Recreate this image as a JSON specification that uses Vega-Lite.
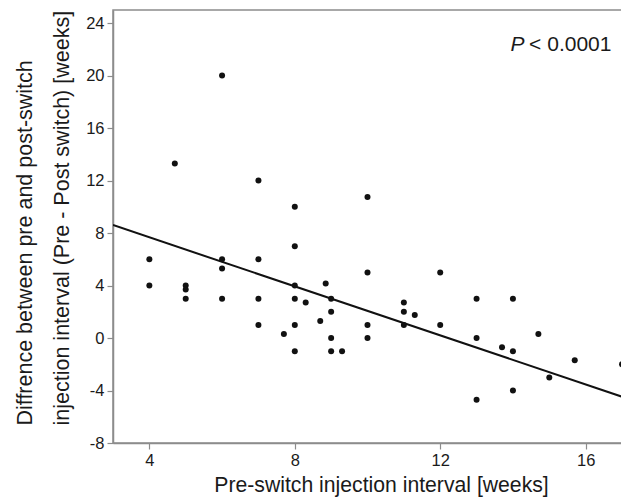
{
  "$schema": "https://vega.github.io/schema/vega-lite/v6.json",
  "width": 509,
  "height": 433,
  "autosize": {"type": "none"},
  "padding": {"left": 113, "top": 10, "right": 0, "bottom": 59},
  "background": "white",
  "config": {
    "font": "Liberation Sans",
    "view": {"stroke": "#8c8c8c", "strokeWidth": 1.5},
    "axis": {
      "domainColor": "#8c8c8c",
      "domainWidth": 1.5,
      "tickColor": "#8c8c8c",
      "tickWidth": 1.2,
      "tickSize": 6,
      "grid": false,
      "labelFont": "Liberation Sans",
      "labelFontSize": 16.5,
      "labelColor": "#1a1a1a",
      "labelPadding": 3,
      "labelExpr": "'' + datum.value",
      "titleFont": "Liberation Sans",
      "titleFontWeight": "normal",
      "titleColor": "#1a1a1a"
    }
  },
  "datasets": {
    "pts": [
      {"pre": 4, "diff": 6}, {"pre": 4, "diff": 4},
      {"pre": 4.7, "diff": 13.3},
      {"pre": 5, "diff": 4}, {"pre": 5, "diff": 3.7}, {"pre": 5, "diff": 3},
      {"pre": 6, "diff": 20}, {"pre": 6, "diff": 6}, {"pre": 6, "diff": 5.3}, {"pre": 6, "diff": 3},
      {"pre": 7, "diff": 12}, {"pre": 7, "diff": 6}, {"pre": 7, "diff": 3}, {"pre": 7, "diff": 1},
      {"pre": 7.7, "diff": 0.3},
      {"pre": 8, "diff": 10}, {"pre": 8, "diff": 7}, {"pre": 8, "diff": 4}, {"pre": 8, "diff": 3}, {"pre": 8, "diff": 1}, {"pre": 8, "diff": -1},
      {"pre": 8.3, "diff": 2.7},
      {"pre": 8.7, "diff": 1.3},
      {"pre": 8.85, "diff": 4.15},
      {"pre": 9, "diff": 3}, {"pre": 9, "diff": 2}, {"pre": 9, "diff": 0}, {"pre": 9, "diff": -1},
      {"pre": 9.3, "diff": -1},
      {"pre": 10, "diff": 10.75}, {"pre": 10, "diff": 5}, {"pre": 10, "diff": 1}, {"pre": 10, "diff": 0},
      {"pre": 11, "diff": 2.7}, {"pre": 11, "diff": 2}, {"pre": 11, "diff": 1},
      {"pre": 11.3, "diff": 1.75},
      {"pre": 12, "diff": 5}, {"pre": 12, "diff": 1},
      {"pre": 13, "diff": 3}, {"pre": 13, "diff": 0}, {"pre": 13, "diff": -4.7},
      {"pre": 13.7, "diff": -0.7},
      {"pre": 14, "diff": 3}, {"pre": 14, "diff": -1}, {"pre": 14, "diff": -4},
      {"pre": 14.7, "diff": 0.3},
      {"pre": 15, "diff": -3},
      {"pre": 15.7, "diff": -1.7},
      {"pre": 17, "diff": -2}
    ],
    "fit": [
      {"pre": 3, "diff": 8.61},
      {"pre": 17, "diff": -4.47}
    ],
    "p1": [{"x": 14.32, "y": 22.3, "t": "P"}],
    "p2": [{"x": 16.71, "y": 22.3, "t": "< 0.0001"}]
  },
  "layer": [
    {
      "data": {"name": "fit"},
      "mark": {"type": "line", "color": "#111111", "strokeWidth": 2, "clip": true},
      "encoding": {
        "x": {"field": "pre", "type": "quantitative", "scale": {"domain": [3, 17], "nice": false, "zero": false},
          "axis": {"values": [4, 8, 12, 16], "title": "Pre-switch injection interval [weeks]",
            "titleFontSize": 21.2, "titlePadding": 6, "titleX": 268, "titleAnchor": "middle"}},
        "y": {"field": "diff", "type": "quantitative", "scale": {"domain": [-8, 25], "nice": false, "zero": false},
          "axis": {"values": [-8, -4, 0, 4, 8, 12, 16, 20, 24],
            "title": ["Diffrence between pre and post-switch", "injection interval (Pre - Post switch) [weeks]"],
            "titleFontSize": 21.5, "titleLineHeight": 37, "titlePadding": 12,
            "titleAnchor": "start", "titleAlign": "left", "titleY": 415}}
      }
    },
    {
      "data": {"name": "pts"},
      "mark": {"type": "circle", "color": "#111111", "opacity": 1, "size": 36},
      "encoding": {
        "x": {"field": "pre", "type": "quantitative"},
        "y": {"field": "diff", "type": "quantitative"}
      }
    },
    {
      "data": {"name": "p1"},
      "mark": {"type": "text", "align": "right", "baseline": "middle", "fontSize": 21, "fontStyle": "italic", "color": "#1a1a1a"},
      "encoding": {
        "x": {"field": "x", "type": "quantitative"},
        "y": {"field": "y", "type": "quantitative"},
        "text": {"field": "t"}
      }
    },
    {
      "data": {"name": "p2"},
      "mark": {"type": "text", "align": "right", "baseline": "middle", "fontSize": 21, "color": "#1a1a1a"},
      "encoding": {
        "x": {"field": "x", "type": "quantitative"},
        "y": {"field": "y", "type": "quantitative"},
        "text": {"field": "t"}
      }
    }
  ]
}
